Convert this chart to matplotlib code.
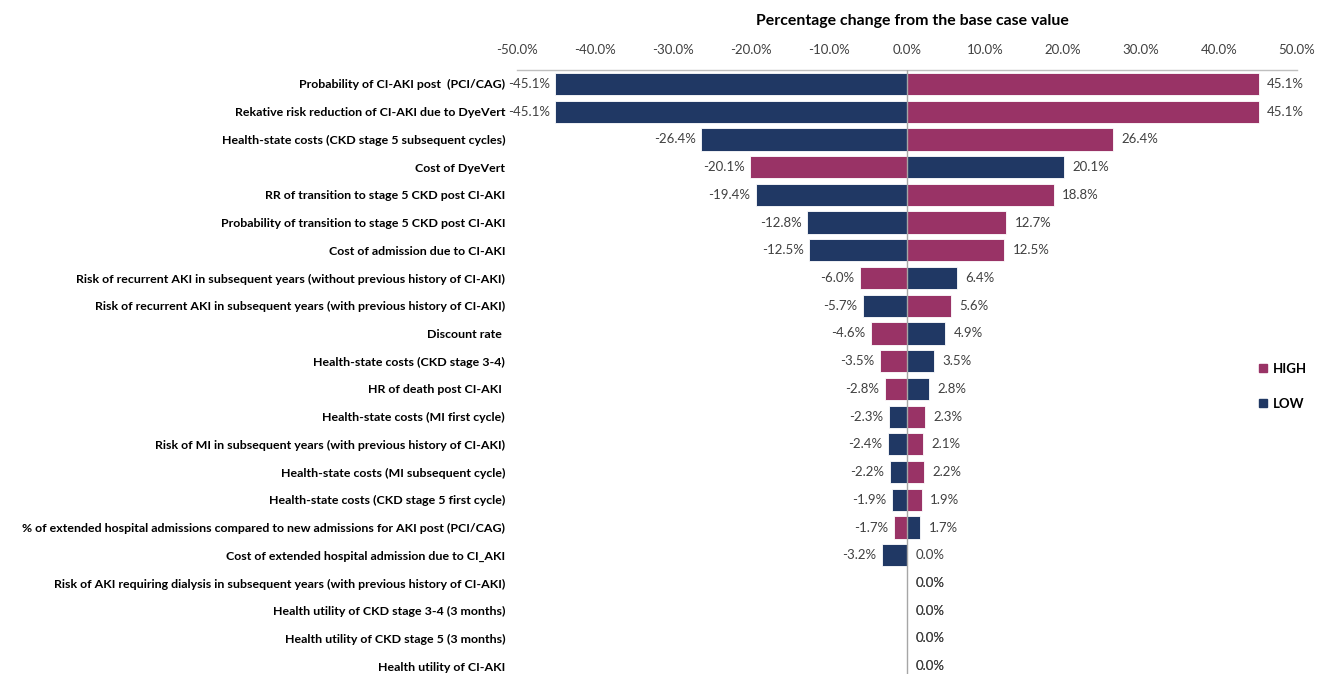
import matplotlib
matplotlib.use('Agg')
import matplotlib.pyplot as plt
from matplotlib.ticker import FuncFormatter
from matplotlib.patches import Patch

plt.rcParams['font.family'] = ['Lato', 'DejaVu Sans']

# parameters, top to bottom
params = [
    "Probability of CI-AKI post  (PCI/CAG)",
    "Rekative risk reduction of CI-AKI due to DyeVert",
    "Health-state costs (CKD stage 5 subsequent cycles)",
    "Cost of DyeVert",
    "RR of transition to stage 5 CKD post CI-AKI",
    "Probability of transition to stage 5 CKD post CI-AKI",
    "Cost of admission due to CI-AKI",
    "Risk of recurrent AKI in subsequent years (without previous history of CI-AKI)",
    "Risk of recurrent AKI in subsequent years (with previous history of CI-AKI)",
    "Discount rate ",
    "Health-state costs (CKD stage 3-4)",
    "HR of death post CI-AKI ",
    "Health-state costs (MI first cycle)",
    "Risk of MI in subsequent years (with previous history of CI-AKI)",
    "Health-state costs (MI subsequent cycle)",
    "Health-state costs (CKD stage 5 first cycle)",
    "% of extended hospital admissions compared to new admissions for AKI post (PCI/CAG)",
    "Cost of extended hospital admission due to CI_AKI",
    "Risk of AKI requiring dialysis in subsequent years (with previous history of CI-AKI)",
    "Health utility of CKD stage 3-4 (3 months)",
    "Health utility of CKD stage 5 (3 months)",
    "Health utility of CI-AKI",
]

# % change from base case
low = [-45.1, -45.1, -26.4, 20.1, -19.4, -12.8, -12.5, 6.4, -5.7, 4.9, 3.5, 2.8,
       -2.3, -2.4, -2.2, -1.9, 1.7, -3.2, 0.0, 0.0, 0.0, 0.0]
high = [45.1, 45.1, 26.4, -20.1, 18.8, 12.7, 12.5, -6.0, 5.6, -4.6, -3.5, -2.8,
        2.3, 2.1, 2.2, 1.9, -1.7, 0.0, 0.0, 0.0, 0.0, 0.0]

xticks = [-50, -40, -30, -20, -10, 0, 10, 20, 30, 40, 50]

NAVY = '#203864'
PLUM = '#993366'
GRAY_TXT = '#404040'

fig = plt.figure(figsize=(13.23, 6.74), dpi=100)
ax = fig.add_axes([0.3908, -0.009, 0.5895, 0.905])

y = list(range(len(params)))
ax.barh(y, low, height=0.8, color=NAVY, edgecolor='white', linewidth=0.6, zorder=2)
ax.barh(y, high, height=0.8, color=PLUM, edgecolor='white', linewidth=0.6, zorder=2)

# value labels
for yi, lo, hi in zip(y, low, high):
    for v in (lo, hi):
        if v < 0:
            ax.annotate(f"{v:.1f}%", (v, yi), xytext=(-4, 0), textcoords='offset points',
                        ha='right', va='center', fontsize=9.5, color=GRAY_TXT)
        else:
            ax.annotate(f"{v:.1f}%", (v, yi), xytext=(6, 0), textcoords='offset points',
                        ha='left', va='center', fontsize=9.5, color=GRAY_TXT)

ax.set_xlim(-50, 50)
ax.set_ylim(len(params) - 0.5, -0.5)
ax.set_xticks(xticks)
ax.xaxis.set_major_formatter(FuncFormatter(lambda v, p: f"{v:.1f}%"))
ax.xaxis.tick_top()
ax.tick_params(axis='x', length=0, pad=10, labelsize=9.5, labelcolor=GRAY_TXT)
ax.set_yticks(y)
ax.set_yticklabels(params, fontsize=8.9, fontweight='bold', color='black')
ax.tick_params(axis='y', length=0, pad=8.5)

for s in ['left', 'right', 'bottom']:
    ax.spines[s].set_visible(False)
ax.spines['top'].set_color('#BFBFBF')
ax.spines['top'].set_linewidth(1)
ax.axvline(0, color='#A6A6A6', linewidth=1, zorder=3)

fig.text(0.6895, 0.969, "Percentage change from the base case value", ha='center', va='center',
         fontsize=11.4, fontweight='bold', color='black')

handles = [Patch(color=PLUM, label='HIGH'), Patch(color=NAVY, label='LOW')]
leg = fig.legend(handles=handles, loc='center left', bbox_to_anchor=(0.943, 0.427),
                 frameon=False, handlelength=0.6, handleheight=0.6, labelspacing=1.75,
                 handletextpad=0.4, prop={'weight': 'bold', 'size': 9.5})

fig.savefig('out.png', dpi=100)
